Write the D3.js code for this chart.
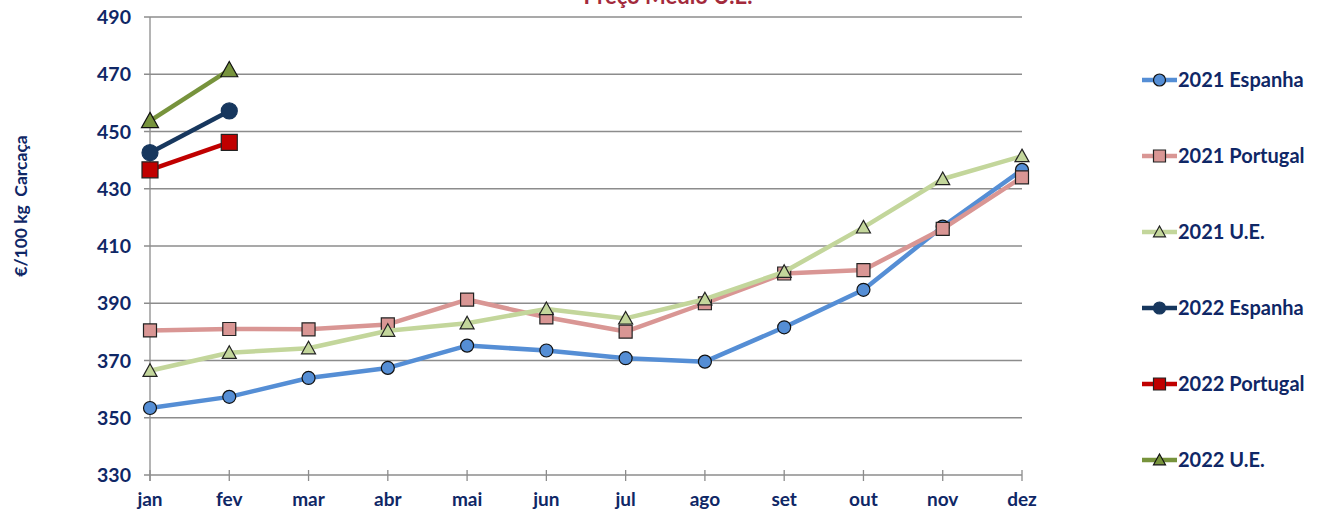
<!DOCTYPE html>
<html>
<head>
<meta charset="utf-8">
<script src="https://cdn.jsdelivr.net/npm/d3@7"></script>
<style>
  body { margin: 0; background: #fff; }
  text { font-family: Lato, "Open Sans", sans-serif; font-weight: bold; }
</style>
</head>
<body>
<div class="container"></div>
<script>
// Data
const months = ["jan", "fev", "mar", "abr", "mai", "jun", "jul", "ago", "set", "out", "nov", "dez"]
const yTicks = [330, 350, 370, 390, 410, 430, 450, 470, 490]

const espanha2021 = [353.4, 357.3, 363.9, 367.4, 375.2, 373.5, 370.8, 369.6, 381.6, 394.7, 416.8, 436.6]
const portugal2021 = [380.5, 381.0, 380.9, 382.6, 391.3, 385.1, 380.1, 390.0, 400.4, 401.6, 416.0, 434.0]
const ue2021 = [366.4, 372.7, 374.3, 380.4, 383.0, 388.0, 384.7, 391.4, 401.0, 416.5, 433.4, 441.4]
const espanha2022 = [442.6, 457.2]
const portugal2022 = [436.6, 446.2]
const ue2022 = [453.7, 471.5]

const seriesNames = ["2021 Espanha", "2021 Portugal", "2021 U.E.", "2022 Espanha", "2022 Portugal", "2022 U.E."]

const series = [
    {name: seriesNames[0], values: espanha2021, line: "#558ed5", fill: "#558ed5", stroke: "#111", shape: "circle", size: 13},
    {name: seriesNames[1], values: portugal2021, line: "#d99694", fill: "#d99694", stroke: "#222", shape: "square", size: 13},
    {name: seriesNames[2], values: ue2021, line: "#c3d69b", fill: "#c3d69b", stroke: "#222", shape: "triangle", size: 14},
    {name: seriesNames[3], values: espanha2022, line: "#17375e", fill: "#17375e", stroke: "#17375e", shape: "circle", size: 16},
    {name: seriesNames[4], values: portugal2022, line: "#c00000", fill: "#c00000", stroke: "#222", shape: "square", size: 16},
    {name: seriesNames[5], values: ue2022, line: "#77933c", fill: "#77933c", stroke: "#111", shape: "triangle", size: 17}
]

const svg = d3.select(".container")
    .append("svg")
    .attr("width", 1320)
    .attr("height", 512)

const x = d3.scalePoint()
    .domain(months)
    .range([150, 1022])

const y = d3.scaleLinear()
    .domain([330, 490])
    .range([475, 17])

const textColor = "#0f2766"

// Gridlines
svg.append("g")
    .selectAll("line")
    .data(yTicks)
    .join("line")
    .attr("x1", 144)
    .attr("x2", 1022)
    .attr("y1", d => y(d))
    .attr("y2", d => y(d))
    .attr("stroke", "#8c8c8c")
    .attr("stroke-width", 1.3)

// Y axis line
svg.append("line")
    .attr("x1", 150).attr("x2", 150)
    .attr("y1", y(490)).attr("y2", 481)
    .attr("stroke", "#8c8c8c")
    .attr("stroke-width", 1.3)

// X ticks
svg.append("g")
    .selectAll("line")
    .data(months)
    .join("line")
    .attr("x1", d => x(d))
    .attr("x2", d => x(d))
    .attr("y1", 470)
    .attr("y2", 481)
    .attr("stroke", "#8c8c8c")
    .attr("stroke-width", 1.3)

// Y tick labels
svg.append("g")
    .selectAll("text")
    .data(yTicks)
    .join("text")
    .attr("x", 131)
    .attr("y", d => y(d) + 7)
    .attr("text-anchor", "end")
    .attr("font-size", 19.5)
    .attr("fill", textColor)
    .text(d => d)

// X tick labels
svg.append("g")
    .selectAll("text")
    .data(months)
    .join("text")
    .attr("x", d => x(d))
    .attr("y", 506)
    .attr("text-anchor", "middle")
    .attr("font-size", 19)
    .attr("fill", textColor)
    .text(d => d)

// Y axis title
svg.append("text")
    .attr("transform", "translate(27, 206) rotate(-90)")
    .attr("text-anchor", "middle")
    .attr("font-size", 17.5)
    .attr("fill", textColor)
    .attr("xml:space", "preserve")
    .text("€/100 kg  Carcaça")

// Chart title (cut off at top, as in the source)
svg.append("text")
    .attr("x", 668)
    .attr("y", 4)
    .attr("text-anchor", "middle")
    .attr("font-size", 22)
    .attr("fill", "#a32a3c")
    .text("Preço Médio U.E.")

function markerPath(shape, size) {
    const s = size / 2
    if (shape === "square") return `M${-s},${-s}H${s}V${s}H${-s}Z`
    if (shape === "triangle") return `M0,${-s}L${s},${s * 0.8}L${-s},${s * 0.8}Z`
    return d3.symbol(d3.symbolCircle, Math.PI * s * s)()
}

const line = d3.line()
    .x((d, i) => x(months[i]))
    .y(d => y(d))

// Lines and markers
series.forEach(s => {
    svg.append("path")
        .datum(s.values)
        .attr("d", line)
        .attr("fill", "none")
        .attr("stroke", s.line)
        .attr("stroke-width", 4.5)
        .attr("stroke-linejoin", "round")

    svg.append("g")
        .selectAll("path")
        .data(s.values)
        .join("path")
        .attr("transform", (d, i) => `translate(${x(months[i])}, ${y(d)})`)
        .attr("d", markerPath(s.shape, s.size))
        .attr("fill", s.fill)
        .attr("stroke", s.stroke)
        .attr("stroke-width", 1.2)
})

// Legend
const legend = svg.append("g")
    .selectAll("g")
    .data(series)
    .join("g")
    .attr("transform", (d, i) => `translate(1142, ${80 + i * 76})`)

legend.append("line")
    .attr("x1", 0).attr("x2", 35)
    .attr("stroke", d => d.line)
    .attr("stroke-width", 4.5)

legend.append("path")
    .attr("transform", "translate(17.5, 0)")
    .attr("d", d => markerPath(d.shape, 12))
    .attr("fill", d => d.fill)
    .attr("stroke", d => d.stroke)
    .attr("stroke-width", 1.2)

legend.append("text")
    .attr("x", 36)
    .attr("y", 7)
    .attr("font-size", 20)
    .attr("fill", textColor)
    .text(d => d.name)
</script>
</body>
</html>
